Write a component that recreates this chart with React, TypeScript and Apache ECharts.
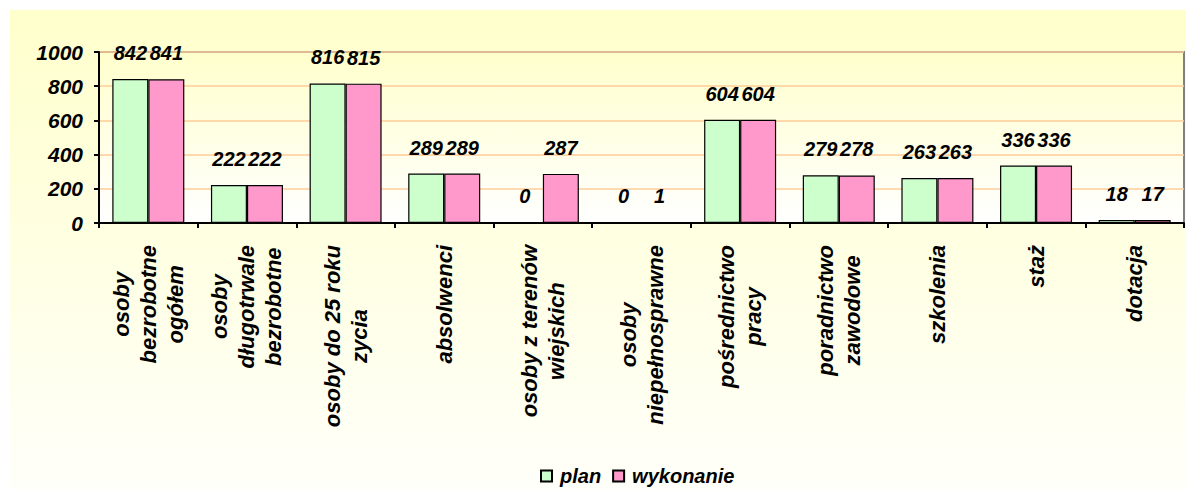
import React, { useEffect, useRef } from 'react';
import * as echarts from 'echarts';

const categories = [
  'osoby\nbezrobotne\nogółem',
  'osoby\ndługotrwale\nbezrobotne',
  'osoby do 25 roku\nzycia',
  'absolwenci',
  'osoby z terenów\nwiejskich',
  'osoby\nniepełnosprawne',
  'pośrednictwo\npracy',
  'poradnictwo\nzawodowe',
  'szkolenia',
  'staż',
  'dotacja',
];
const planValues = [842, 222, 816, 289, 0, 0, 604, 279, 263, 336, 18];
const wykonanieValues = [841, 222, 815, 289, 287, 1, 604, 278, 263, 336, 17];
const seriesNames = ['plan', 'wykonanie'];
const yMin = 0;
const yMax = 1000;
const yInterval = 200;

export default function App() {
  const ref = useRef<HTMLDivElement>(null);
  useEffect(() => {
    const chart = echarts.init(ref.current as HTMLDivElement, null, { renderer: 'svg' });
    const font = {
      fontFamily: '"Liberation Sans", Arial, sans-serif',
      fontWeight: 'bold' as const,
      fontStyle: 'italic' as const,
      color: '#000',
    };
    const labelCfg = {
      show: true,
      position: 'top' as const,
      distance: 16,
      ...font,
      fontSize: 20,
    };
    chart.setOption({
      animation: false,
      backgroundColor: new echarts.graphic.LinearGradient(0, 0, 0, 1, [
        { offset: 0, color: '#FFFFCC' },
        { offset: 1, color: '#FFFFFA' },
      ]),
      grid: {
        left: 89,
        top: 42,
        right: 2,
        bottom: 266,
        containLabel: false,
        show: true,
        borderColor: '#808080',
        borderWidth: 2,
        backgroundColor: new echarts.graphic.LinearGradient(0, 0, 0, 1, [
          { offset: 0, color: '#FFFFCC' },
          { offset: 1, color: '#FFFFFF' },
        ]),
      },
      legend: {
        data: seriesNames,
        left: 530,
        top: 455,
        padding: 0,
        icon: 'rect',
        itemWidth: 11,
        itemHeight: 11,
        itemGap: 11,
        textStyle: { ...font, fontSize: 20, lineHeight: 22, padding: [0, 0, 0, 3] },
      },
      xAxis: {
        type: 'category',
        data: categories,
        axisLine: { show: true, lineStyle: { color: '#000', width: 2 } },
        axisTick: { show: true, length: 5, lineStyle: { color: '#000', width: 2 } },
        axisLabel: {
          interval: 0,
          rotate: 90,
          margin: 22,
          ...font,
          fontSize: 22,
          lineHeight: 27,
          formatter: (v: string) =>
            v
              .split('\n')
              .map((l) => `{a|${l}}`)
              .join('\n'),
          rich: {
            a: {
              ...font,
              fontSize: 22,
              lineHeight: 27,
              align: 'center',
            },
          },
        },
      },
      yAxis: {
        type: 'value',
        min: yMin,
        max: yMax,
        interval: yInterval,
        axisLine: { show: true, lineStyle: { color: '#000', width: 2 } },
        axisTick: { show: true, length: 5, lineStyle: { color: '#000', width: 2 } },
        axisLabel: { ...font, fontSize: 21, margin: 16, formatter: (v: number) => String(v) },
        splitLine: {
          show: true,
          lineStyle: { color: '#FFCC99', width: 1.5 },
        },
      },
      series: [
        {
          name: seriesNames[0],
          type: 'bar',
          data: planValues,
          barGap: '0%',
          barCategoryGap: '27%',
          itemStyle: { color: '#CCFFCC', borderColor: '#000', borderWidth: 1.2 },
          label: labelCfg,
        },
        {
          name: seriesNames[1],
          type: 'bar',
          data: wykonanieValues,
          barGap: '0%',
          barCategoryGap: '27%',
          itemStyle: { color: '#FF99CC', borderColor: '#000', borderWidth: 1.2 },
          label: labelCfg,
        },
      ],
    });
    return () => chart.dispose();
  }, []);
  return (
    <div
      ref={ref}
      style={{ position: 'absolute', left: 10, top: 10, width: 1176, height: 479 }}
    />
  );
}
